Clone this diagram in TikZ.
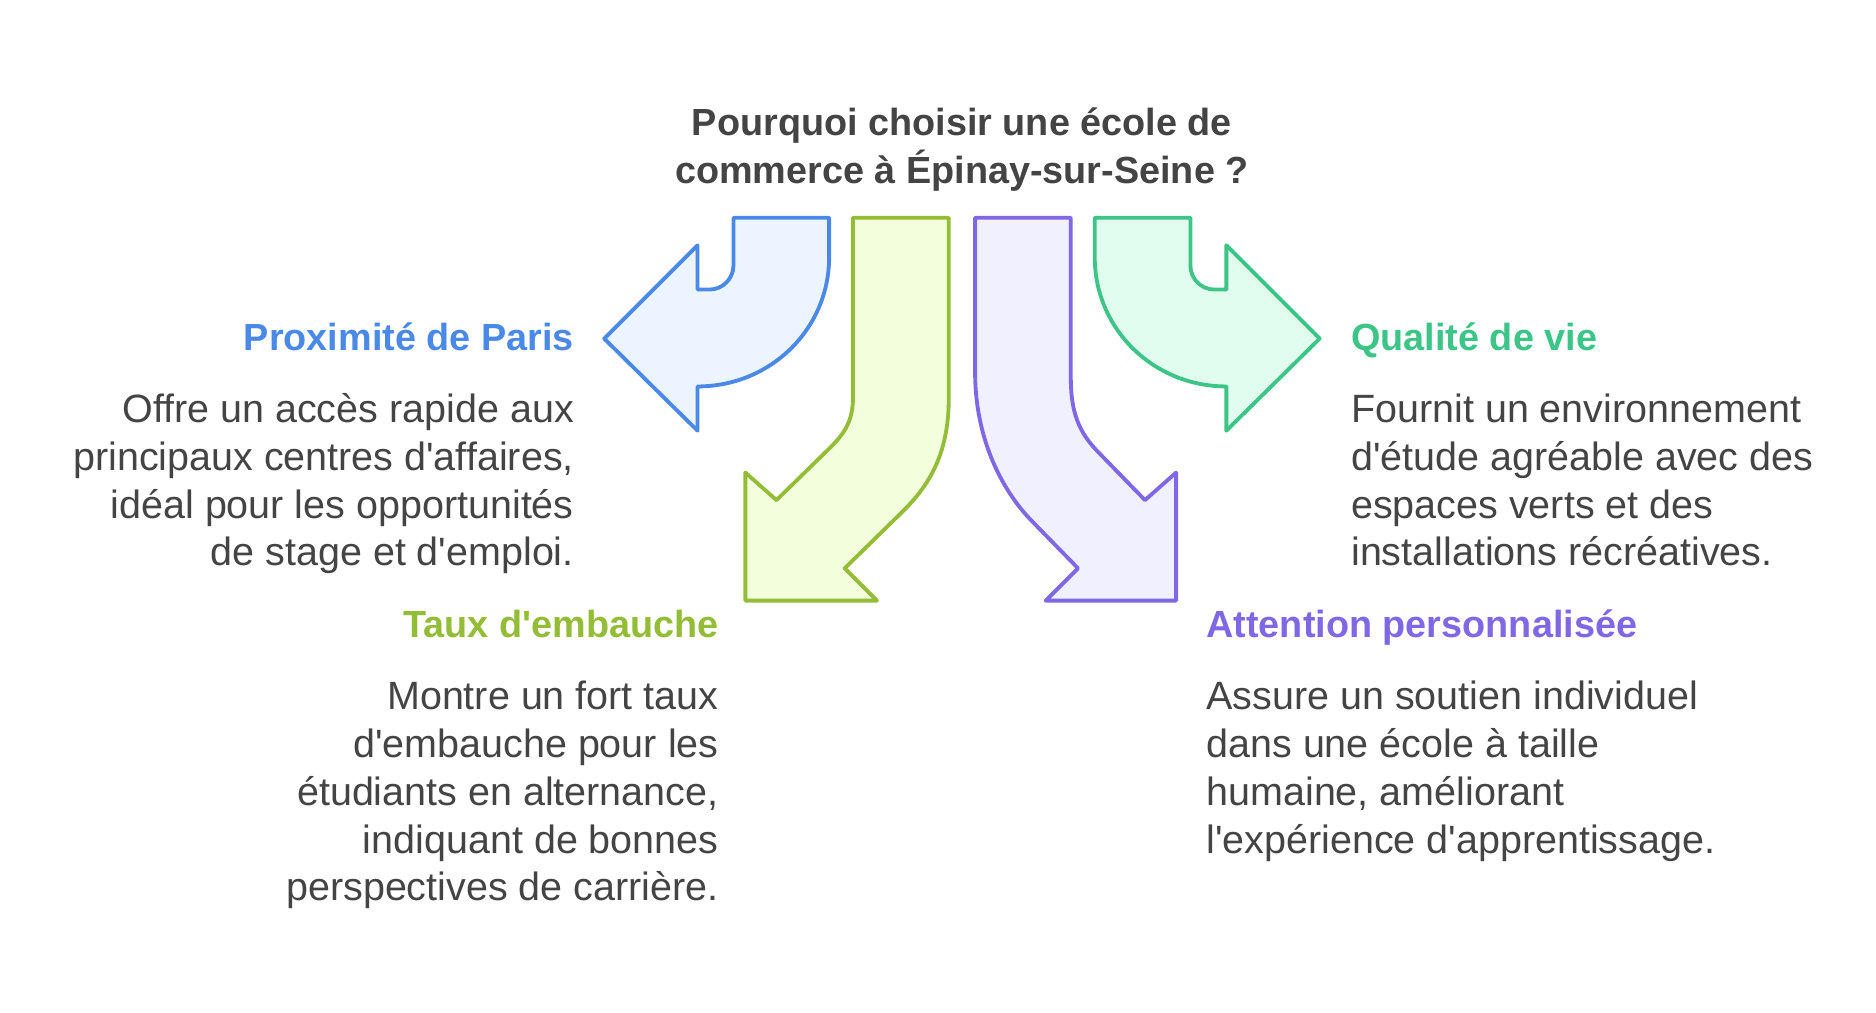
\documentclass[tikz,border=0pt]{standalone}
\usepackage{fontspec}
\setmainfont{Liberation Sans}
\usetikzlibrary{positioning}
\definecolor{textgray}{RGB}{68,68,68}
\definecolor{parisblue}{RGB}{74,137,232}
\definecolor{parisfill}{RGB}{236,244,255}
\definecolor{embauchelime}{RGB}{147,189,55}
\definecolor{embauchefill}{RGB}{242,254,220}
\definecolor{suivipurple}{RGB}{127,103,230}
\definecolor{suivifill}{RGB}{241,240,254}
\definecolor{viegreen}{RGB}{61,196,135}
\definecolor{viefill}{RGB}{224,253,239}
\newcommand{\apos}{\textquotesingle}

\begin{document}
\begin{tikzpicture}[x=0.5pt, y=-0.5pt,
    bentarrow/.style={line width=1.6pt, line join=round},
    heading/.style={font=\fontsize{15.8}{20}\selectfont\bfseries, inner sep=0pt},
    body/.style={font=\fontsize{16.5}{20}\selectfont, text=textgray, inner sep=0pt}]
    \useasboundingbox (0,0) rectangle (1568,846);

    % Title (base = last line)
    \node[heading, text=textgray, align=center, anchor=base] (title) at (804,153)
        {Pourquoi choisir une école de\\commerce à Épinay-sur-Seine ?};

    % Four bent arrows
    \draw[bentarrow, draw=parisblue, fill=parisfill] (613,182) -- (693,182) -- (693,215)
        .. controls (693,275) and (644,323) .. (583,323) -- (583,360) -- (505,283)
        -- (583,205) -- (583,242) -- (593,242) .. controls (604,242) and (613,233) .. (613,222) -- cycle;
    \draw[bentarrow, draw=embauchelime, fill=embauchefill] (713,182) -- (793,182) -- (793,333)
        .. controls (793,380) and (776,406) .. (755,427) -- (706,475) -- (733,502)
        -- (623,502) -- (623,395) -- (649,418) -- (694,374)
        .. controls (706,362) and (713,352) .. (713,331) -- cycle;
    \draw[bentarrow, draw=suivipurple, fill=suivifill] (815,182) -- (895,182) -- (895,316)
        .. controls (895,350) and (905,365) .. (920,380) -- (957,418) -- (983,395)
        -- (983,502) -- (874,502) -- (901,475) -- (861,434)
        .. controls (840,412) and (815,370) .. (815,311) -- cycle;
    \draw[bentarrow, draw=viegreen, fill=viefill] (995,182) -- (915,182) -- (915,215)
        .. controls (915,275) and (964,323) .. (1025,323) -- (1025,360) -- (1103,283)
        -- (1025,205) -- (1025,242) -- (1015,242) .. controls (1004,242) and (995,233) .. (995,222) -- cycle;

    % Proximite de Paris
    \node[heading, text=parisblue, anchor=base east] (paris) at (480,293) {Proximité de Paris};
    \node[body, align=right, anchor=base east] (parisText) at (480,473)
        {Offre un accès rapide aux\\principaux centres d\apos{}affaires,\\idéal pour les opportunités\\de stage et d\apos{}emploi.};

    % Qualite de vie
    \node[heading, text=viegreen, anchor=base west] (vie) at (1129,293) {Qualité de vie};
    \node[body, align=left, anchor=base west] (vieText) at (1129,473)
        {Fournit un environnement\\d\apos{}étude agréable avec des\\espaces verts et des\\installations récréatives.};

    % Taux d'embauche
    \node[heading, text=embauchelime, anchor=base east] (embauche) at (601,533) {Taux d\apos{}embauche};
    \node[body, align=right, anchor=base east] (embaucheText) at (601,753)
        {Montre un fort taux\\d\apos{}embauche pour les\\étudiants en alternance,\\indiquant de bonnes\\perspectives de carrière.};

    % Attention personnalisee
    \node[heading, text=suivipurple, anchor=base west] (suivi) at (1008,533) {Attention personnalisée};
    \node[body, align=left, anchor=base west] (suiviText) at (1008,713)
        {Assure un soutien individuel\\dans une école à taille\\humaine, améliorant\\l\apos{}expérience d\apos{}apprentissage.};
\end{tikzpicture}
\end{document}
